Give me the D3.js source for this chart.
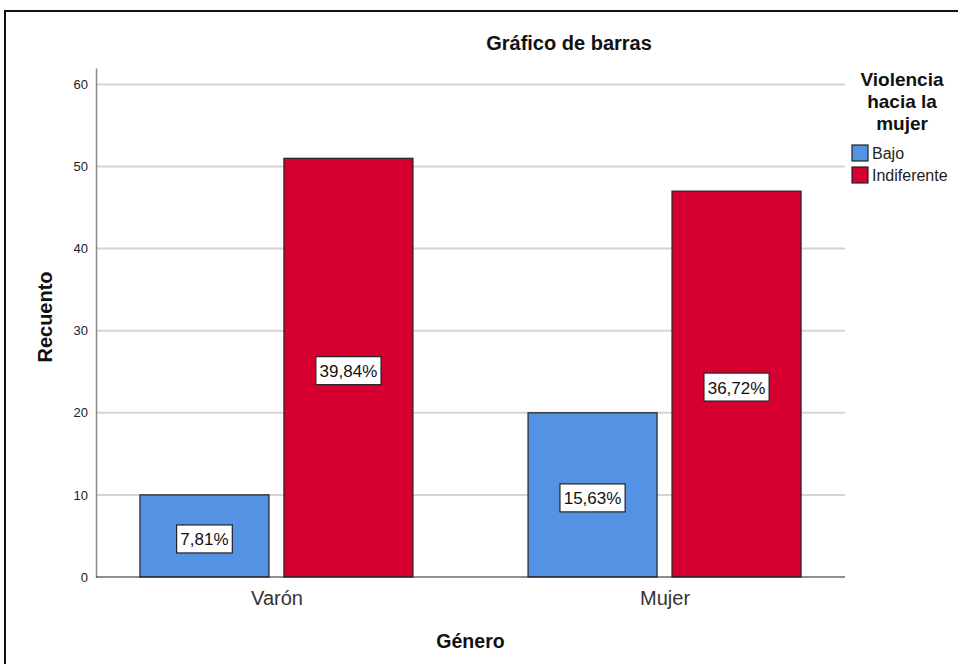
<!DOCTYPE html>
<html>
<head>
<meta charset="utf-8">
<script src="https://cdn.jsdelivr.net/npm/d3@7"></script>
<style>
    body { margin: 0; background: #fff; }
    svg { display: block; font-family: Arial, "Liberation Sans", sans-serif; }
</style>
</head>
<body>
<svg id="chart" width="958" height="664"></svg>
<script>
// data
const categories = ['Varón', 'Mujer'];
const levels = ['Bajo', 'Indiferente'];
const bajoCounts = [10, 20];
const indiferenteCounts = [51, 47];
const percentLabels = [['7,81%', '39,84%'], ['15,63%', '36,72%']];
const yTicks = [0, 10, 20, 30, 40, 50, 60];
const colors = ['#5493e3', '#d50030'];

let svg = d3.select('#chart'),
    margin = { top: 68, right: 113, bottom: 87, left: 96 },
    width = 958 - margin.left - margin.right,
    height = 664 - margin.top - margin.bottom;

// outer frame
svg.append('rect')
    .attr('x', 5)
    .attr('y', 11)
    .attr('width', 970)
    .attr('height', 700)
    .attr('fill', 'none')
    .attr('stroke', '#111')
    .attr('stroke-width', 2);

let g = svg.append('g')
    .attr('transform', 'translate(' + margin.left + ',' + margin.top + ')');

// scales
let scaleY = d3.scaleLinear()
    .domain([0, 62])
    .range([height, 0]);

let scaleX = d3.scalePoint()
    .domain(categories)
    .range([0, width])
    .padding(0.465);

let scaleInner = d3.scaleBand()
    .domain(levels)
    .range([-136.5, 136.5])
    .paddingInner(0.104);

// grid lines
g.append('g')
    .selectAll('line')
    .data(yTicks.filter(d => d > 0))
    .enter()
    .append('line')
    .attr('x1', 0)
    .attr('x2', width)
    .attr('y1', d => scaleY(d))
    .attr('y2', d => scaleY(d))
    .attr('stroke', '#d4d4d4')
    .attr('stroke-width', 2);

// y axis
let yAxis = d3.axisLeft(scaleY)
    .tickValues(yTicks)
    .tickSize(0)
    .tickPadding(8);

g.append('g')
    .attr('class', 'y-axis')
    .call(yAxis)
    .call(a => a.select('.domain').attr('stroke', '#888').attr('stroke-width', 1.5))
    .call(a => a.selectAll('.tick text')
        .attr('font-size', 13)
        .attr('fill', '#222'));

// bars
let rows = categories.map((c, i) => ({
    cat: c,
    values: [bajoCounts[i], indiferenteCounts[i]],
    labels: percentLabels[i]
}));

let groups = g.selectAll('.grp')
    .data(rows)
    .enter()
    .append('g')
    .attr('class', 'grp')
    .attr('transform', d => 'translate(' + scaleX(d.cat) + ',0)');

let cells = groups.selectAll('.cell')
    .data(d => d.values.map((v, k) => ({ level: levels[k], value: v, label: d.labels[k], k: k })))
    .enter()
    .append('g')
    .attr('class', 'cell');

cells.append('rect')
    .attr('x', d => scaleInner(d.level))
    .attr('y', d => scaleY(d.value))
    .attr('width', scaleInner.bandwidth())
    .attr('height', d => height - scaleY(d.value))
    .attr('fill', d => colors[d.k])
    .attr('stroke', '#222')
    .attr('stroke-width', 1.2);

// percent labels
cells.each(function(d) {
    let cx = scaleInner(d.level) + scaleInner.bandwidth() / 2,
        cy = (scaleY(d.value) + height) / 2 + 3,
        item = d3.select(this);
    let txt = item.append('text')
        .attr('x', cx)
        .attr('y', cy + 6.5)
        .attr('text-anchor', 'middle')
        .attr('font-size', 17)
        .attr('fill', '#111')
        .text(d.label);
    let w = txt.node().getComputedTextLength() + 7.5;
    item.insert('rect', 'text')
        .attr('x', cx - w / 2)
        .attr('y', cy - 14)
        .attr('width', w)
        .attr('height', 28)
        .attr('fill', '#fff')
        .attr('stroke', '#222')
        .attr('stroke-width', 1.2);
});

// x axis line
g.append('line')
    .attr('x1', 0)
    .attr('x2', width)
    .attr('y1', height)
    .attr('y2', height)
    .attr('stroke', '#222')
    .attr('stroke-width', 1.2);

let xAxis = d3.axisBottom(scaleX).tickSize(0).tickPadding(14);
g.append('g')
    .attr('transform', 'translate(0,' + height + ')')
    .call(xAxis)
    .call(a => a.select('.domain').remove())
    .call(a => a.selectAll('.tick text')
        .attr('font-size', 20)
        .attr('fill', '#333'));

// titles
svg.append('text')
    .attr('x', 569)
    .attr('y', 50)
    .attr('text-anchor', 'middle')
    .attr('font-size', 20)
    .attr('font-weight', 'bold')
    .attr('fill', '#111')
    .text('Gráfico de barras');

svg.append('text')
    .attr('x', margin.left + width / 2)
    .attr('y', 648)
    .attr('text-anchor', 'middle')
    .attr('font-size', 19.5)
    .attr('font-weight', 'bold')
    .attr('fill', '#111')
    .text('Género');

svg.append('text')
    .attr('transform', 'translate(52,317) rotate(-90)')
    .attr('text-anchor', 'middle')
    .attr('font-size', 20)
    .attr('font-weight', 'bold')
    .attr('fill', '#111')
    .text('Recuento');

// legend
let legend = svg.append('g').attr('class', 'legend');
['Violencia', 'hacia la', 'mujer'].forEach((t, i) => {
    legend.append('text')
        .attr('x', 902)
        .attr('y', 86 + i * 22)
        .attr('text-anchor', 'middle')
        .attr('font-size', 19)
        .attr('font-weight', 'bold')
        .attr('fill', '#111')
        .text(t);
});

levels.forEach((l, i) => {
    legend.append('rect')
        .attr('x', 852)
        .attr('y', 145 + i * 22)
        .attr('width', 16)
        .attr('height', 16)
        .attr('fill', colors[i])
        .attr('stroke', '#222')
        .attr('stroke-width', 1.2);
    legend.append('text')
        .attr('x', 872)
        .attr('y', 159 + i * 22)
        .attr('font-size', 16)
        .attr('fill', '#222')
        .text(l);
});
</script>
</body>
</html>
